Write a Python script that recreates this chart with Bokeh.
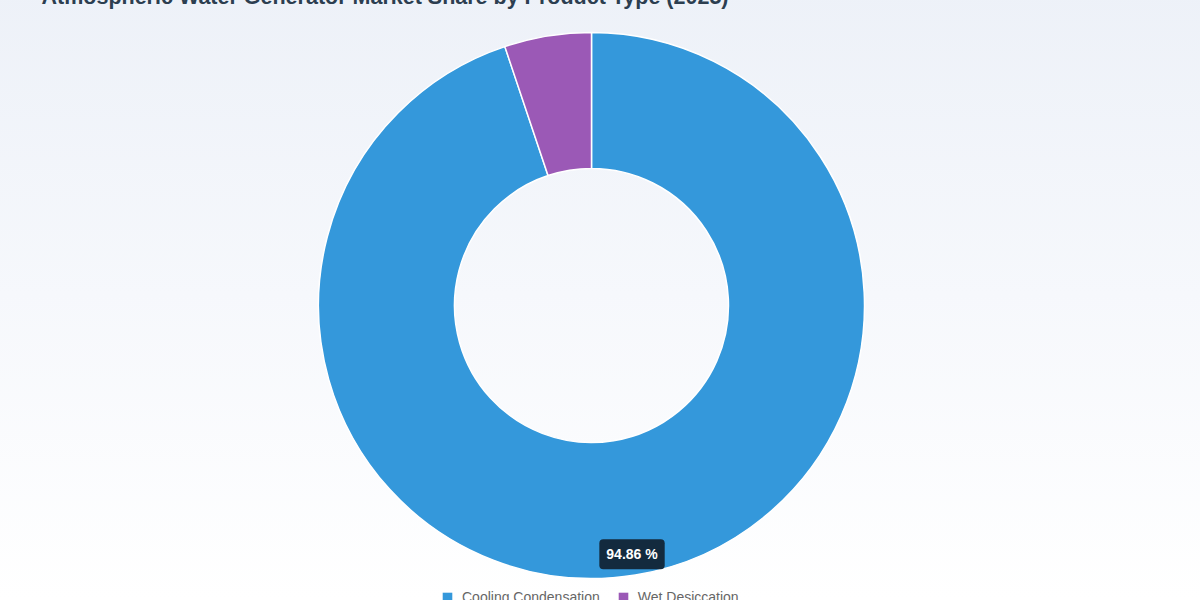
import math
from bokeh.plotting import figure
from bokeh.models import Range1d, Label, Legend, LegendItem, ColumnDataSource
from bokeh.embed import file_html
from bokeh.resources import INLINE

title_text = "Atmospheric Water Generator Market Share by Product Type (2025)"
categories = ["Cooling Condensation", "Wet Desiccation"]
shares = [94.86, 5.14]
colors = ["#3498db", "#9b59b6"]

W, H = 1200, 612
p = figure(width=W, height=H, output_backend="svg", toolbar_location=None,
           x_range=Range1d(0, 1200), y_range=Range1d(-600, 12),
           min_border=0, outline_line_color=None)
p.axis.visible = False
p.grid.visible = False
p.background_fill_alpha = 0
p.border_fill_alpha = 0
p.styles = {"position": "absolute", "top": "-12px", "left": "0px",
            "background": "linear-gradient(to bottom, #edf1f8 0%, #f6f8fc 50%, #ffffff 100%)"}

cx, cy = 591, -305
r_in, r_out = 137, 273

total = sum(shares)
starts, ends = [], []
cum = 0.0
for v in shares:
    a0 = math.pi / 2 - 2 * math.pi * (cum + v) / total
    a1 = math.pi / 2 - 2 * math.pi * cum / total
    starts.append(a0)
    ends.append(a1)
    cum += v

src = ColumnDataSource(dict(x=[cx] * len(shares), y=[cy] * len(shares),
                            start=starts, end=ends, color=colors, cat=categories))
p.annular_wedge(x="x", y="y", inner_radius=r_in, outer_radius=r_out,
                start_angle="start", end_angle="end", color="color",
                line_color="white", line_width=1.5, source=src)

# label for the largest slice
mid = (starts[0] + ends[0]) / 2
lr = 252
p.add_layout(Label(x=cx + lr * math.cos(mid), y=cy + lr * math.sin(mid),
                   text=f"{shares[0]:.2f} %", text_align="center", text_baseline="middle",
                   text_color="white", text_font="Liberation Sans",
                   text_font_style="bold", text_font_size="14px",
                   background_fill_color="#132a3e", background_fill_alpha=1.0,
                   border_radius=4, padding=7))

# title (partially cut off at top as in the reference)
p.add_layout(Label(x=41, y=4, text=title_text, text_align="left",
                   text_baseline="alphabetic", text_color="#2c3e50",
                   text_font="Liberation Sans", text_font_style="bold",
                   text_font_size="21.5px"))

# legend (quads with NaN extents so only the legend swatch shows)
nan = float("nan")
items = []
for cat, col in zip(categories, colors):
    r = p.quad(left=[nan], right=[nan], top=[nan], bottom=[nan],
               fill_color=col, line_color=None)
    items.append(LegendItem(label=cat, renderers=[r]))
legend = Legend(items=items, orientation="horizontal", location=(441, -5),
                border_line_alpha=0, background_fill_alpha=0,
                label_text_font="Liberation Sans", label_text_font_size="14px",
                label_text_color="#666666", glyph_width=12, glyph_height=12,
                label_standoff=9, spacing=17, padding=0, margin=0)
p.add_layout(legend)

open("out.html", "w").write(file_html(p, INLINE))
